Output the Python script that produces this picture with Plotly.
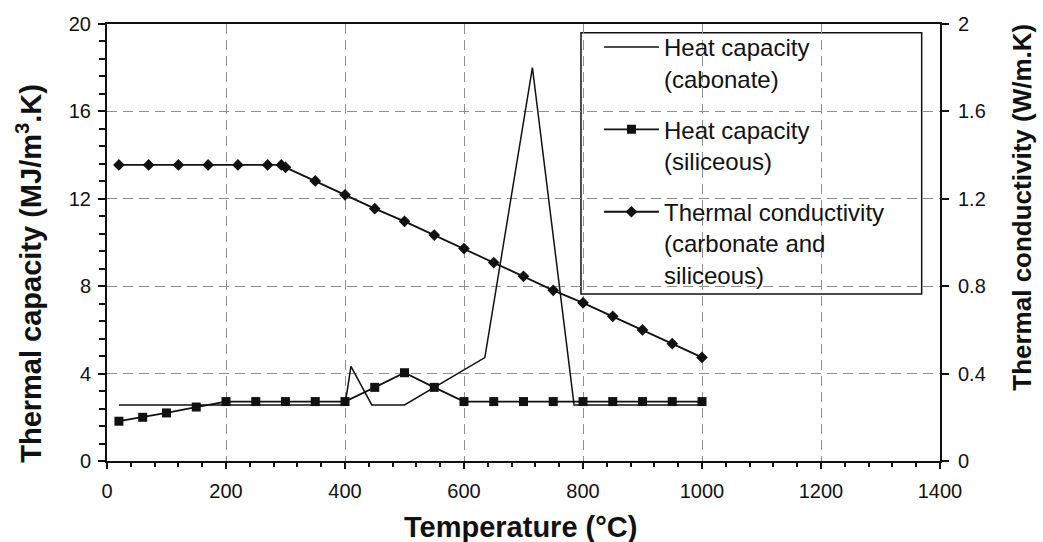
import plotly.graph_objects as go

# Heat capacity of carbonate-aggregate concrete (MJ/m3.K)
carb_temp = [20, 400, 410, 445, 500, 635, 715, 785, 1000]
carb_cap = [2.566, 2.566, 4.33, 2.566, 2.566, 4.73, 18.0, 2.566, 2.566]

# Heat capacity of siliceous-aggregate concrete (MJ/m3.K)
sil_temp = [20, 60, 100, 150, 200, 250, 300, 350, 400, 450, 500, 550,
            600, 650, 700, 750, 800, 850, 900, 950, 1000]
sil_cap = [1.82, 2.0, 2.2, 2.47, 2.72, 2.72, 2.72, 2.72, 2.72, 3.37, 4.04, 3.37,
           2.72, 2.72, 2.72, 2.72, 2.72, 2.72, 2.72, 2.72, 2.72]

# Thermal conductivity, same for both aggregates (W/m.K)
cond_temp = [20, 70, 120, 170, 220, 270, 293, 300, 350, 400, 450, 500, 550,
             600, 650, 700, 750, 800, 850, 900, 950, 1000]
cond_val = [1.355, 1.355, 1.355, 1.355, 1.355, 1.355, 1.355, 1.344, 1.282,
            1.218, 1.155, 1.097, 1.034, 0.972, 0.908, 0.845, 0.781, 0.724,
            0.662, 0.600, 0.537, 0.474]

series_names = [
    "Heat capacity<br>(cabonate)",
    "Heat capacity<br>(siliceous)",
    "Thermal conductivity<br>(carbonate and<br>siliceous)",
]

x_title = "<b>Temperature (°C)</b>"
y_title = "<b>Thermal capacity (MJ/m<sup>3</sup>.K)</b>"
y2_title = "<b>Thermal conductivity (W/m.K)</b>"

FONT = "Liberation Sans, Arial, sans-serif"
INK = "#111111"

fig = go.Figure()
fig.add_trace(go.Scatter(
    x=carb_temp, y=carb_cap, name=series_names[0], mode="lines",
    line=dict(color=INK, width=1.5), legendgroup="a",
))
fig.add_trace(go.Scatter(
    x=sil_temp, y=sil_cap, name=series_names[1], mode="lines+markers",
    line=dict(color=INK, width=1.8),
    marker=dict(symbol="square", size=9, color=INK), legendgroup="b",
))
fig.add_trace(go.Scatter(
    x=cond_temp, y=cond_val, name=series_names[2], mode="lines+markers",
    line=dict(color=INK, width=1.8),
    marker=dict(symbol="diamond", size=9, color=INK), legendgroup="c",
    yaxis="y2",
))

grid = dict(showgrid=True, gridcolor="#8f8f8f", griddash="10px,6px", gridwidth=1)

fig.update_layout(
    width=1043, height=542,
    margin=dict(l=107, r=103, t=24, b=81),
    paper_bgcolor="white", plot_bgcolor="white",
    font=dict(family=FONT, color=INK, size=20),
    xaxis=dict(
        range=[0, 1400], dtick=200, tick0=0,
        showline=True, linecolor=INK, linewidth=2, mirror=True,
        ticks="outside", ticklen=6, tickwidth=1.5, tickcolor=INK,
        minor=dict(dtick=40, ticks="outside", ticklen=4, tickcolor=INK,
                   showgrid=False),
        ticklabelstandoff=5,
        tickfont=dict(size=20),
        zeroline=False, **grid,
    ),
    yaxis=dict(
        range=[0, 20], dtick=4, tick0=0,
        showline=True, linecolor=INK, linewidth=2,
        ticks="outside", ticklen=7, tickwidth=1.5, tickcolor=INK,
        minor=dict(dtick=0.8, ticks="outside", ticklen=6, tickcolor=INK,
                   showgrid=False),
        ticklabelstandoff=3,
        tickfont=dict(size=20),
        zeroline=False, **grid,
    ),
    yaxis2=dict(
        range=[0, 2], dtick=0.4, tick0=0, overlaying="y", side="right",
        showline=True, linecolor=INK, linewidth=2,
        ticks="outside", ticklen=7, tickwidth=1.5, tickcolor=INK,
        ticklabelstandoff=5,
        showgrid=False, zeroline=False,
        tickfont=dict(size=20),
    ),
    # inner half of the right-hand tick marks (they cross the axis line)
    yaxis3=dict(
        range=[0, 2], dtick=0.4, tick0=0, overlaying="y", side="right",
        showline=False, showticklabels=False, showgrid=False, zeroline=False,
        ticks="inside", ticklen=4, tickwidth=1.5, tickcolor=INK,
    ),
    legend=dict(
        x=0.5906, y=0.998, xanchor="left", yanchor="top",
        bgcolor="rgba(0,0,0,0)", borderwidth=0,
        font=dict(size=24, color=INK), itemwidth=55, valign="top",
        tracegroupgap=17,
    ),
    showlegend=True,
)

# white legend panel with a thin black frame
fig.add_shape(type="rect", xref="paper", yref="paper",
              x0=0.569, x1=0.978, y0=0.382, y1=0.980,
              fillcolor="white", line=dict(color=INK, width=1.5),
              layer="between")

# Axis titles placed as paper-anchored annotations
fig.add_annotation(text=x_title, xref="paper", yref="paper", x=0.496, y=-0.151,
                   xanchor="center", yanchor="middle", showarrow=False,
                   font=dict(size=29))
fig.add_annotation(text=y_title, xref="paper", yref="paper", x=-0.094, y=0.43,
                   xanchor="center", yanchor="middle", showarrow=False,
                   textangle=-90, font=dict(size=29))
fig.add_annotation(text=y2_title, xref="paper", yref="paper", x=1.098, y=0.581,
                   xanchor="center", yanchor="middle", showarrow=False,
                   textangle=-90, font=dict(size=26))

fig.write_html("out.html")
